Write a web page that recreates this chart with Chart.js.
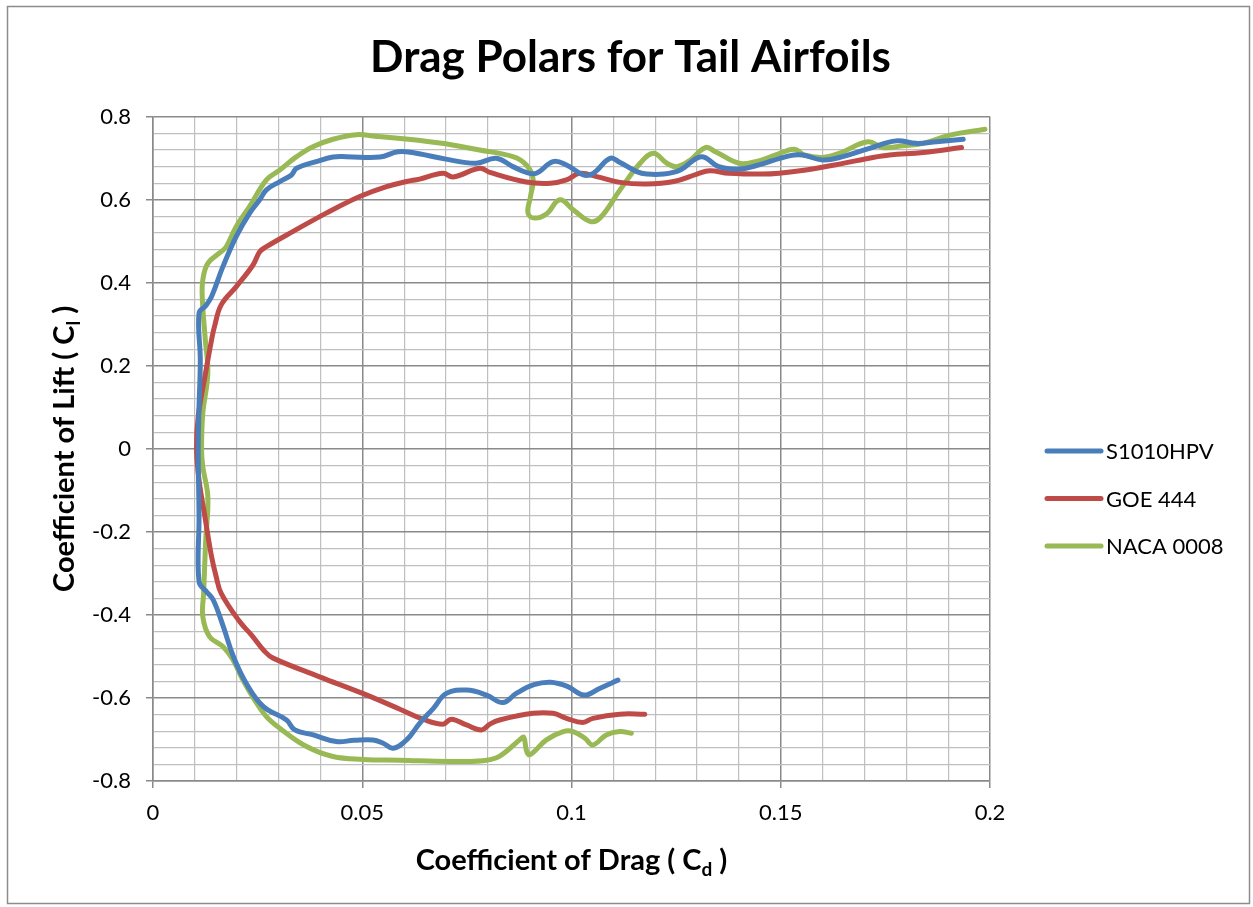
<!DOCTYPE html>
<html>
<head>
<meta charset="utf-8">
<script src="https://cdn.jsdelivr.net/npm/chart.js@4.4.0/dist/chart.umd.min.js"></script>
<style>
  html, body { margin: 0; padding: 0; background: #fff; }
</style>
</head>
<body>
<canvas id="chart" width="1253" height="907"></canvas>
<script>
// Drag polars (Cd vs Cl) for three tail airfoils

const seriesNames = ["S1010HPV", "GOE 444", "NACA 0008"];
const seriesColors = ["#4A7EBB", "#BE4B48", "#98B954"];

const s1010Cd = [0.1111,0.1067,0.1030,0.0990,0.0950,0.0910,0.0868,0.0836,0.0797,0.0749,0.0701,0.0670,0.0637,0.0606,0.0574,0.0550,0.0526,0.0480,0.0438,0.0383,0.0339,0.0319,0.0264,0.0223,0.0192,0.0168,0.0144,0.0128,0.0110,0.0110,0.0108,0.0110,0.0113,0.0110,0.0126,0.0140,0.0167,0.0199,0.0231,0.0255,0.0271,0.0303,0.0331,0.0343,0.0390,0.0430,0.0462,0.0542,0.0585,0.0620,0.0700,0.0772,0.0820,0.0860,0.0892,0.0916,0.0956,0.0988,0.1028,0.1052,0.1092,0.1116,0.1156,0.1180,0.1220,0.1260,0.1310,0.1352,0.1400,0.1440,0.1520,0.1552,0.1600,0.1648,0.1712,0.1776,0.1824,0.1872,0.1936];
const s1010Cl = [-0.557,-0.577,-0.593,-0.572,-0.562,-0.568,-0.589,-0.611,-0.593,-0.581,-0.589,-0.625,-0.661,-0.701,-0.721,-0.709,-0.701,-0.702,-0.705,-0.689,-0.677,-0.653,-0.621,-0.565,-0.500,-0.428,-0.364,-0.344,-0.320,-0.163,0.000,0.102,0.214,0.327,0.345,0.367,0.439,0.512,0.568,0.600,0.624,0.644,0.660,0.676,0.692,0.703,0.704,0.703,0.716,0.714,0.698,0.688,0.700,0.680,0.666,0.664,0.692,0.684,0.660,0.664,0.700,0.690,0.668,0.662,0.662,0.672,0.704,0.680,0.674,0.682,0.706,0.708,0.696,0.704,0.724,0.742,0.736,0.740,0.746];

const goeCd = [0.1175,0.1115,0.1051,0.1027,0.0988,0.0956,0.0908,0.0828,0.0805,0.0785,0.0749,0.0713,0.0693,0.0645,0.0590,0.0501,0.0398,0.0287,0.0267,0.0235,0.0207,0.0163,0.0151,0.0140,0.0124,0.0110,0.0104,0.0108,0.0124,0.0140,0.0147,0.0163,0.0199,0.0239,0.0255,0.0271,0.0335,0.0414,0.0494,0.0558,0.0606,0.0637,0.0693,0.0717,0.0781,0.0805,0.0892,0.0950,0.0988,0.1020,0.1060,0.1116,0.1180,0.1244,0.1300,0.1330,0.1376,0.1456,0.1496,0.1560,0.1640,0.1720,0.1760,0.1840,0.1932];
const goeCl = [-0.639,-0.639,-0.649,-0.659,-0.649,-0.637,-0.637,-0.653,-0.663,-0.677,-0.665,-0.651,-0.663,-0.651,-0.627,-0.589,-0.549,-0.504,-0.488,-0.448,-0.416,-0.348,-0.308,-0.260,-0.163,-0.075,0.000,0.078,0.174,0.263,0.295,0.347,0.391,0.443,0.475,0.487,0.524,0.568,0.608,0.632,0.644,0.650,0.664,0.655,0.676,0.666,0.643,0.640,0.648,0.664,0.656,0.642,0.638,0.644,0.662,0.670,0.664,0.662,0.664,0.672,0.686,0.702,0.708,0.714,0.726];

const nacaCd = [0.1143,0.1115,0.1083,0.1051,0.1032,0.1004,0.0980,0.0940,0.0900,0.0892,0.0886,0.0876,0.0844,0.0821,0.0789,0.0709,0.0590,0.0502,0.0430,0.0367,0.0303,0.0271,0.0243,0.0215,0.0191,0.0167,0.0135,0.0119,0.0121,0.0126,0.0131,0.0119,0.0116,0.0119,0.0131,0.0125,0.0118,0.0119,0.0131,0.0159,0.0175,0.0199,0.0231,0.0271,0.0303,0.0343,0.0382,0.0430,0.0486,0.0526,0.0685,0.0780,0.0860,0.0892,0.0908,0.0902,0.0896,0.0912,0.0940,0.0972,0.1004,0.1044,0.1068,0.1116,0.1164,0.1196,0.1228,0.1252,0.1284,0.1320,0.1344,0.1400,0.1440,0.1488,0.1532,0.1556,0.1600,0.1640,0.1708,0.1744,0.1792,0.1840,0.1904,0.1988];
const nacaCl = [-0.685,-0.681,-0.689,-0.713,-0.697,-0.681,-0.681,-0.701,-0.737,-0.725,-0.695,-0.701,-0.729,-0.744,-0.751,-0.753,-0.750,-0.748,-0.741,-0.717,-0.673,-0.645,-0.605,-0.557,-0.508,-0.476,-0.452,-0.404,-0.348,-0.219,-0.115,-0.043,0.000,0.086,0.182,0.263,0.359,0.407,0.447,0.472,0.487,0.536,0.584,0.648,0.672,0.704,0.728,0.746,0.757,0.754,0.737,0.720,0.704,0.684,0.652,0.608,0.568,0.556,0.566,0.600,0.576,0.548,0.556,0.624,0.688,0.712,0.688,0.680,0.696,0.726,0.716,0.688,0.692,0.708,0.722,0.708,0.702,0.712,0.740,0.726,0.730,0.736,0.756,0.770];

const xTickLabels = ["0", "0.05", "0.1", "0.15", "0.2"];
const yTickLabels = ["-0.8", "-0.6", "-0.4", "-0.2", "0", "0.2", "0.4", "0.6", "0.8"];

const FONT = "Lato, 'Open Sans', sans-serif";
const MAJOR_GRID = "#8a8a8a";
const MINOR_GRID = "#bfbfbf";

function toPoints(xs, ys){ return xs.map((x, i) => ({ x: x, y: ys[i] })); }

// is v a multiple of step (within float noise)
function onStep(v, step){ return Math.abs(v/step - Math.round(v/step)) < 1e-6; }

function findLabel(list, v, step){
  const idx = list.findIndex(s => Math.abs(parseFloat(s) - v) < step/10);
  return idx >= 0 ? list[idx] : "";
}

const datasets = [
  toPoints(s1010Cd, s1010Cl),
  toPoints(goeCd, goeCl),
  toPoints(nacaCd, nacaCl)
].map((pts, i) => ({
  label: seriesNames[i],
  data: pts,
  showLine: true,
  borderColor: seriesColors[i],
  backgroundColor: seriesColors[i],
  borderWidth: 5,
  pointRadius: 0,
  tension: 0.4,
  borderCapStyle: "round",
  borderJoinStyle: "round"
}));

// draw a bold title with a subscript part: [before, sub, after]
function drawSubText(ctx, parts, cx, baseline, size){
  const big = "bold " + size + "px " + FONT;
  const small = "bold " + Math.round(size*0.66) + "px " + FONT;
  ctx.font = big; const w0 = ctx.measureText(parts[0]).width; const w2 = ctx.measureText(parts[2]).width;
  ctx.font = small; const w1 = ctx.measureText(parts[1]).width;
  let x = cx - (w0 + w1 + w2)/2;
  ctx.textAlign = "left"; ctx.textBaseline = "alphabetic"; ctx.fillStyle = "#000";
  ctx.font = big; ctx.fillText(parts[0], x, baseline); x += w0;
  ctx.font = small; ctx.fillText(parts[1], x, baseline + size*0.22); x += w1;
  ctx.font = big; ctx.fillText(parts[2], x, baseline);
}

const extras = {
  id: "extras",
  beforeDraw(chart){
    const ctx = chart.ctx;
    ctx.save();
    ctx.fillStyle = "#fff";
    ctx.fillRect(0, 0, chart.width, chart.height);
    ctx.restore();
  },
  afterDraw(chart){
    const ctx = chart.ctx, a = chart.chartArea;
    ctx.save();
    // outer frame
    ctx.strokeStyle = "#8c8c8c"; ctx.lineWidth = 1.5;
    ctx.strokeRect(7.5, 6.5, 1242, 897);

    // axis titles
    drawSubText(ctx, ["Coefficient of Drag ( C", "d", " )"], (a.left + a.right)/2, 870, 29);
    ctx.save();
    ctx.translate(74, (a.top + a.bottom)/2);
    ctx.rotate(-Math.PI/2);
    drawSubText(ctx, ["Coefficient of Lift ( C", "l", " )"], 0, 0, 29);
    ctx.restore();

    // legend
    const lx = 1047, ly = 451, gap = 47.5;
    chart.data.datasets.forEach((ds, i) => {
      const y = ly + i*gap;
      ctx.strokeStyle = ds.borderColor; ctx.lineWidth = 5; ctx.lineCap = "round";
      ctx.beginPath(); ctx.moveTo(lx, y); ctx.lineTo(lx + 54, y); ctx.stroke();
      ctx.fillStyle = "#000"; ctx.font = "22px " + FONT;
      ctx.textAlign = "left"; ctx.textBaseline = "middle";
      ctx.fillText(ds.label, lx + 59, y + 1);
    });
    ctx.restore();
  }
};

new Chart(document.getElementById("chart"), {
  type: "scatter",
  data: { datasets: datasets },
  plugins: [extras],
  options: {
    responsive: false,
    animation: false,
    layout: { padding: { left: 8, right: 0, top: 0, bottom: 0 } },
    plugins: {
      legend: { display: false },
      tooltip: { enabled: false },
      title: {
        display: true,
        text: "Drag Polars for Tail Airfoils",
        color: "#000",
        font: { family: FONT, size: 44, weight: "bold" },
        padding: { top: 31, bottom: 33 }
      }
    },
    scales: {
      x: {
        type: "linear",
        min: 0, max: 0.2,
        afterFit(scale){ scale.height = 126; },
        border: { color: MAJOR_GRID, width: 1.5 },
        grid: {
          color: c => onStep(c.tick.value, 0.05) ? MAJOR_GRID : MINOR_GRID,
          lineWidth: c => onStep(c.tick.value, 0.05) ? 1.5 : 1.2,
          tickColor: c => onStep(c.tick.value, 0.05) ? MAJOR_GRID : "rgba(0,0,0,0)",
          tickLength: 7
        },
        ticks: {
          stepSize: 0.01,
          autoSkip: false,
          maxRotation: 0,
          padding: 12,
          color: "#000",
          font: { family: FONT, size: 22 },
          callback: v => onStep(v, 0.05) ? findLabel(xTickLabels, v, 0.05) : ""
        }
      },
      y: {
        type: "linear",
        min: -0.8, max: 0.8,
        afterFit(scale){ scale.width = 145; },
        border: { color: MAJOR_GRID, width: 1.5 },
        grid: {
          color: c => onStep(c.tick.value, 0.2) ? MAJOR_GRID : MINOR_GRID,
          lineWidth: c => onStep(c.tick.value, 0.2) ? 1.5 : 1.2,
          tickColor: c => onStep(c.tick.value, 0.2) ? MAJOR_GRID : "rgba(0,0,0,0)",
          tickLength: 7
        },
        ticks: {
          stepSize: 0.04,
          autoSkip: false,
          padding: 15,
          color: "#000",
          font: { family: FONT, size: 22 },
          callback: v => onStep(v, 0.2) ? findLabel(yTickLabels, v, 0.2) : ""
        }
      },
      // empty right-hand box that keeps room for the legend
      legendSpace: {
        type: "linear",
        position: "right",
        afterFit(scale){ scale.width = 263; },
        grid: { display: false },
        border: { display: false },
        ticks: { display: false }
      }
    }
  }
});
</script>
</body>
</html>
